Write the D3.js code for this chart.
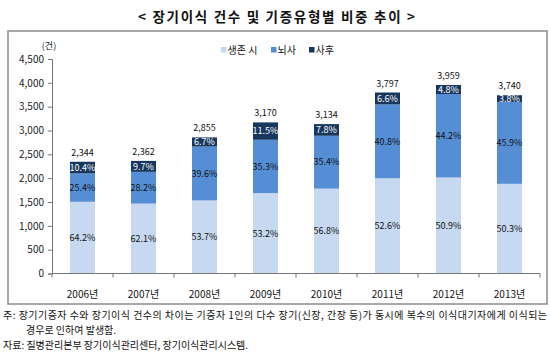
<!DOCTYPE html>
<html>
<head>
<meta charset="utf-8">
<script src="https://d3js.org/d3.v7.min.js"></script>
<style>
 body { margin:0; background:#fff; }
 text { font-family: "Noto Sans CJK KR", "Noto Sans", sans-serif; }
 .tick text { font-size:10px; fill:#222; }
</style>
</head>
<body>
<div id="chart"></div>
<script>
var years = ["2006년","2007년","2008년","2009년","2010년","2011년","2012년","2013년"];
var totals = [2344, 2362, 2855, 3170, 3134, 3797, 3959, 3740];
var livingPct = [64.2, 62.1, 53.7, 53.2, 56.8, 52.6, 50.9, 50.3];
var brainPct = [25.4, 28.2, 39.6, 35.3, 35.4, 40.8, 44.2, 45.9];
var deadPct = [10.4, 9.7, 6.7, 11.5, 7.8, 6.6, 4.8, 3.8];
var seriesNames = ["생존 시", "뇌사", "사후"];
var colors = ["#c6d9f1", "#558ed5", "#17375e"];
var yTicks = [0,500,1000,1500,2000,2500,3000,3500,4000,4500];

var W = 550, H = 354;
var svg = d3.select("#chart").append("svg").attr("width", W).attr("height", H);

// title
svg.append("text").attr("x", 138).attr("y", 21.5)
  .attr("textLength", 277).attr("lengthAdjust", "spacing")
  .style("font-size","13.5px").style("font-weight","bold").attr("fill","#111")
  .text("< 장기이식 건수 및 기증유형별 비중 추이 >");

// frame
svg.append("rect").attr("x", 8).attr("y", 31).attr("width", 539).attr("height", 273)
  .attr("fill","none").attr("stroke","#8c8c8c").attr("stroke-width",1.5);

var x = d3.scaleBand().domain(years).range([52, 540]).paddingInner(0.59).paddingOuter(0.295);
var y = d3.scaleLinear().domain([0, 4500]).range([273.5, 59]);

// stacked data
var stacked = years.map(function(yr, i) {
  var pcts = [livingPct[i], brainPct[i], deadPct[i]];
  var acc = 0;
  return pcts.map(function(p, k) {
    var v = totals[i] * p / 100;
    var seg = {year: yr, k: k, pct: p, y0: acc, y1: acc + v};
    acc += v;
    return seg;
  });
});

var g = svg.append("g");
stacked.forEach(function(segs) {
  segs.forEach(function(s) {
    g.append("rect").attr("x", x(s.year)).attr("width", x.bandwidth())
      .attr("y", y(s.y1)).attr("height", y(s.y0) - y(s.y1)).attr("fill", colors[s.k]);
  });
});
stacked.forEach(function(segs) {
  segs.forEach(function(s) {
    g.append("text").attr("x", x(s.year) + x.bandwidth()/2)
      .attr("y", (y(s.y0) + y(s.y1))/2 + 3.2).attr("text-anchor","middle")
      .style("font-size","9px").attr("fill", s.k === 2 ? "#fff" : "#111")
      .text(s.pct.toFixed(1) + "%");
  });
});

// totals
g.selectAll(".tot").data(years).enter().append("text")
  .attr("x", function(d){ return x(d) + x.bandwidth()/2; })
  .attr("y", function(d, i){ return y(totals[i]) - 6; })
  .attr("text-anchor","middle").style("font-size","9px").attr("fill","#111")
  .text(function(d, i){ return d3.format(",")(totals[i]); });

// y axis
var yAxis = svg.append("g").attr("transform","translate(52,0)")
  .call(d3.axisLeft(y).tickValues(yTicks).tickFormat(d3.format(",")).tickSize(4).tickPadding(4));
yAxis.select(".domain").attr("stroke","#777");
yAxis.selectAll(".tick line").attr("stroke","#777");

// x axis
var xb = d3.scalePoint().domain(d3.range(9)).range([52, 540]);
var xAxisG = svg.append("g").attr("transform","translate(0,273.5)");
xAxisG.append("line").attr("x1",52).attr("x2",540).attr("stroke","#777");
xAxisG.selectAll(".xt").data(d3.range(9)).enter().append("line")
  .attr("x1", function(d){ return xb(d); }).attr("x2", function(d){ return xb(d); })
  .attr("y1", 0).attr("y2", 4).attr("stroke","#777");
xAxisG.selectAll(".xl").data(years).enter().append("text")
  .attr("x", function(d){ return x(d) + x.bandwidth()/2; }).attr("y", 24)
  .attr("text-anchor","middle").style("font-size","10px").attr("fill","#111")
  .text(function(d){ return d; });

// unit
svg.append("text").attr("x", 49).attr("y", 48.5).attr("text-anchor","middle")
  .style("font-size","9px").attr("fill","#222").text("(건)");

// legend
var legX = [221, 271, 309];
seriesNames.forEach(function(n, i) {
  svg.append("rect").attr("x", legX[i]).attr("y", 47).attr("width", 5.5).attr("height", 5.5).attr("fill", colors[i]);
  svg.append("text").attr("x", legX[i] + 6.5).attr("y", 54).style("font-size","10px").attr("fill","#111").text(n);
});

// notes
var notes = [
  {x: 3, y: 318.5, t: "주: 장기기증자 수와 장기이식 건수의 차이는 기증자 1인의 다수 장기(신장, 간장 등)가 동시에 복수의 이식대기자에게 이식되는"},
  {x: 26, y: 333.5, t: "경우로 인하여 발생함."},
  {x: 3, y: 348.5, t: "자료: 질병관리본부 장기이식관리센터, 장기이식관리시스템."}
];
notes.forEach(function(n, i) {
  var t = svg.append("text").attr("x", n.x).attr("y", n.y).style("font-size","10px").attr("fill","#111").text(n.t);
  if (i === 0) t.attr("textLength", 544).attr("lengthAdjust", "spacing");
});
</script>
</body>
</html>
